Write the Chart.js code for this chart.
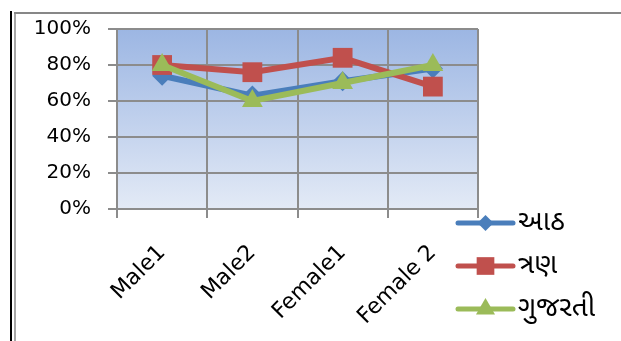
<!DOCTYPE html>
<html>
<head>
<meta charset="utf-8">
<script src="https://cdn.jsdelivr.net/npm/chart.js@4/dist/chart.umd.min.js"></script>
<style>
  html, body { margin: 0; padding: 0; background: #ffffff; }
  #wrap { position: relative; width: 621px; height: 341px; overflow: hidden; }
  #c { position: absolute; left: 0; top: 0; }
  .rule { position: absolute; pointer-events: none; }
  #outerLeft { left: 10px; top: 11px; width: 2px; height: 330px; background: #000000; }
  #innerLeft { left: 14px; top: 12px; width: 2px; height: 329px; background: #a6a6a6; }
  #innerTop  { left: 14px; top: 12px; right: 0; height: 2px; background: #878787; }
</style>
</head>
<body>
<div id="wrap">
  <canvas id="c" width="621" height="341"></canvas>
  <div class="rule" id="outerLeft"></div>
  <div class="rule" id="innerLeft"></div>
  <div class="rule" id="innerTop"></div>
</div>
<script>
// Categories and series
const categories = ['Male1', 'Male2', 'Female1', 'Female 2'];
const seriesNames = ['આઠ', 'ત્રણ', 'ગુજરતી'];
const aathValues = [74, 63, 71, 78];
const tranValues = [80, 76, 84, 68];
const gujaratiValues = [80, 60, 70, 80];
const yTickValues = [0, 20, 40, 60, 80, 100];

const seriesColors = ['#4a7ebb', '#c0504d', '#9bbb59'];
const seriesMarkers = ['rectRot', 'rect', 'triangle'];
const markerRadius = [10, 14, 12];

const gridColor = '#8c8c8c';
const yTickFont = { family: '"DejaVu Sans", sans-serif', size: 20 };
const xTickFont = { family: '"DejaVu Sans", sans-serif', size: 22 };
const legendFontFamily = '"Noto Sans Gujarati", "Lohit Gujarati", "Noto Sans", sans-serif';

// Gradient fill behind the plotting area
const plotBackground = {
  id: 'plotBackground',
  beforeDraw(chart) {
    const { ctx, chartArea: a } = chart;
    const g = ctx.createLinearGradient(0, a.top, 0, a.bottom);
    g.addColorStop(0, '#9cb6e3');
    g.addColorStop(1, '#e3eaf6');
    ctx.save();
    ctx.fillStyle = g;
    ctx.fillRect(a.left, a.top, a.right - a.left, a.bottom - a.top);
    ctx.restore();
  }
};

// Legend: line sample with marker, then the series name
const lineLegend = {
  id: 'lineLegend',
  afterDraw(chart) {
    const { ctx } = chart;
    const x0 = 458, x1 = 513, textX = 518, y0 = 223, rowGap = 43;
    ctx.save();
    chart.data.datasets.forEach((ds, i) => {
      const y = y0 + i * rowGap;
      ctx.strokeStyle = ds.borderColor;
      ctx.fillStyle = ds.borderColor;
      ctx.lineWidth = 5;
      ctx.lineCap = 'round';
      ctx.beginPath();
      ctx.moveTo(x0, y);
      ctx.lineTo(x1, y);
      ctx.stroke();
      Chart.helpers.drawPoint(ctx, {
        pointStyle: ds.pointStyle,
        radius: ds.legendRadius,
        rotation: 0,
        borderWidth: 0
      }, (x0 + x1) / 2, y);
      ctx.fillStyle = '#000000';
      ctx.font = '28px ' + legendFontFamily;
      ctx.textAlign = 'left';
      ctx.textBaseline = 'middle';
      ctx.fillText(ds.label, textX, y + 2);
    });
    ctx.restore();
  }
};

const valueSets = [aathValues, tranValues, gujaratiValues];
const legendRadius = [8, 12.5, 11];

const datasets = seriesNames.map((name, i) => ({
  label: name,
  data: valueSets[i],
  borderColor: seriesColors[i],
  backgroundColor: seriesColors[i],
  borderWidth: 6,
  pointStyle: seriesMarkers[i],
  pointRadius: markerRadius[i],
  pointHoverRadius: markerRadius[i],
  pointBorderWidth: 0,
  legendRadius: legendRadius[i],
  tension: 0,
  order: 2 - i
}));

new Chart(document.getElementById('c'), {
  type: 'line',
  data: { labels: categories, datasets },
  options: {
    responsive: false,
    animation: false,
    devicePixelRatio: 1,
    layout: { padding: { left: 0, top: 29, right: 143, bottom: 0 } },
    plugins: { legend: { display: false }, tooltip: { enabled: false } },
    scales: {
      x: {
        offset: true,
        grid: { offset: true, color: gridColor, lineWidth: 2, tickLength: 9, drawTicks: true },
        border: { color: gridColor, width: 2 },
        ticks: { color: '#000000', font: xTickFont, minRotation: 45, maxRotation: 45, padding: 22, autoSkip: false },
        afterFit(s) { s.height = 132; }
      },
      y: {
        min: 0,
        max: 100,
        afterBuildTicks(s) { s.ticks = yTickValues.map(v => ({ value: v })); },
        grid: { color: gridColor, lineWidth: 2, tickLength: 9 },
        border: { color: gridColor, width: 2 },
        ticks: { color: '#000000', font: yTickFont, padding: 17, callback: v => v + '%' },
        afterFit(s) { s.width = 117; }
      }
    }
  },
  plugins: [plotBackground, lineLegend]
});
</script>
</body>
</html>
